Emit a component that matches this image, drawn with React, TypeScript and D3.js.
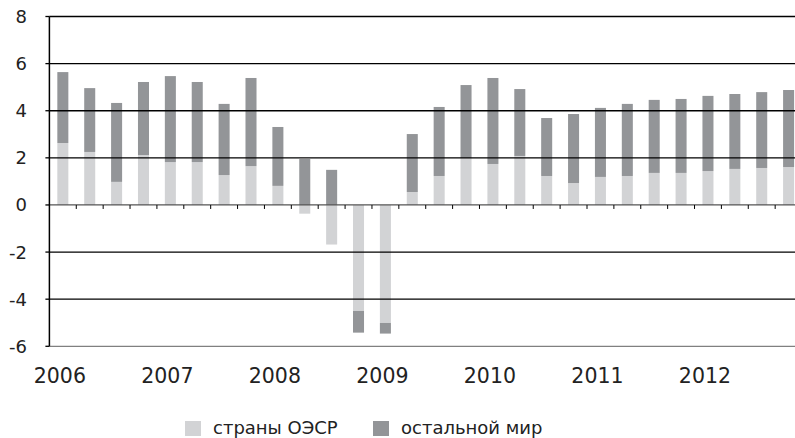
import React from "react";
import * as d3 from "d3";

const quarters = d3.range(28).map((i) => `${2006 + Math.floor(i / 4)}Q${(i % 4) + 1}`);
const oecd = [2.63, 2.25, 0.98, 2.12, 1.82, 1.82, 1.27, 1.65, 0.81, -0.37, -1.68, -4.5, -5.01, 0.55, 1.23, 1.99, 1.74, 2.08, 1.23, 0.93, 1.19, 1.23, 1.36, 1.36, 1.44, 1.53, 1.57, 1.61];
const rest = [3.01, 2.71, 3.35, 3.1, 3.65, 3.4, 3.02, 3.74, 2.5, 1.95, 1.49, -0.92, -0.45, 2.46, 2.93, 3.1, 3.65, 2.84, 2.46, 2.93, 2.93, 3.06, 3.1, 3.14, 3.19, 3.18, 3.22, 3.27];
const yearLabels = ["2006", "2007", "2008", "2009", "2010", "2011", "2012"];
const yTicks = [-6, -4, -2, 0, 2, 4, 6, 8];
const seriesNames = ["страны ОЭСР", "остальной мир"];
const colors = ["#d2d3d5", "#939598"];

export default function App() {
  const W = 795, H = 438;
  const left = 49.4, top = 16.5, bottom = 346.3;
  const band = 26.88;
  const x = d3.scaleBand<string>().domain(quarters).range([left, left + band * 28]).paddingInner(0.59).paddingOuter(0.295);
  const xb = d3.scaleBand<string>().domain(quarters).range([left, left + band * 28]);
  const y = d3.scaleLinear().domain([-6, 8]).range([bottom, top]);
  const rows = quarters.map((q, i) => ({ q, oecd: oecd[i], rest: rest[i] }));
  const stacked = d3.stack<any>().keys(["oecd", "rest"]).offset(d3.stackOffsetDiverging)(rows);
  const font = "DejaVu Sans, sans-serif";
  return (
    <svg width={W} height={H} style={{ position: "absolute", left: 0, top: 0, background: "#fff" }}>
      {stacked.map((s, si) =>
        s.map((d, i) => (
          <rect key={`${si}-${i}`} x={x(quarters[i])} width={x.bandwidth()} y={y(Math.max(d[0], d[1]))} height={Math.abs(y(d[0]) - y(d[1]))} fill={colors[si]} />
        ))
      )}
      {yTicks.map((t) => (
        <line key={t} x1={left} x2={W} y1={y(t)} y2={y(t)} stroke={t === -6 ? "#808080" : t === 0 ? "#555" : "#000"} strokeWidth={1.3} />
      ))}
      {quarters.map((q, i) => (
        <line key={q} x1={(xb(q) as number) + band} x2={(xb(q) as number) + band} y1={y(0)} y2={y(0) + 4} stroke="#000" strokeWidth={1} />
      ))}
      <line x1={left} x2={left} y1={top} y2={bottom} stroke="#000" strokeWidth={1.5} />
      {yTicks.map((t) => (
        <g key={`yt${t}`}>
          <line x1={left - 4} x2={left} y1={y(t)} y2={y(t)} stroke="#000" strokeWidth={1.3} />
          <text x={27} y={y(t)} dy="0.36em" textAnchor="end" fontFamily={font} fontSize={18} fill="#222">{t}</text>
        </g>
      ))}
      {yearLabels.map((l, i) => (
        <text key={l} x={(x(quarters[i * 4]) as number) + x.bandwidth() / 2 - 3} y={383} textAnchor="middle" fontFamily={font} fontSize={20.5} fill="#222">{l}</text>
      ))}
      {seriesNames.map((n, i) => {
        const lx = [185, 373][i];
        return (
          <g key={n}>
            <rect x={lx} y={421} width={16} height={15} fill={colors[i]} />
            <text x={lx + 28} y={434} fontFamily={font} fontSize={18} fill="#222">{n}</text>
          </g>
        );
      })}
    </svg>
  );
}
